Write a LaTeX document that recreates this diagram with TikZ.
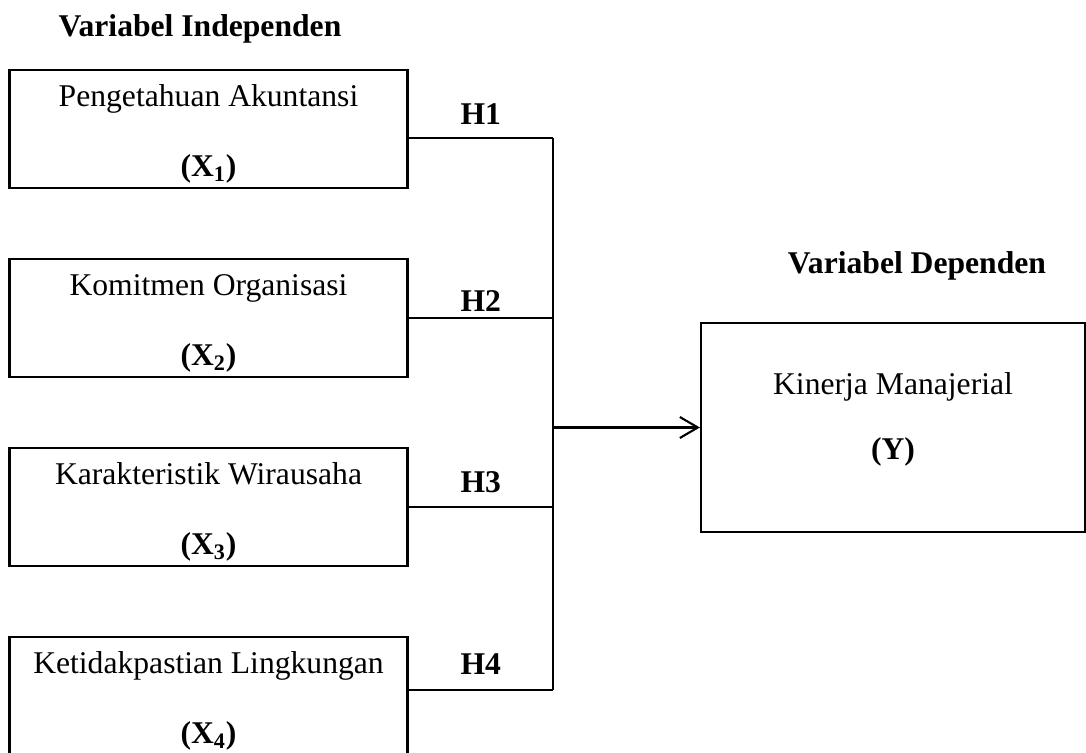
\documentclass[tikz,border=0pt]{standalone}
\usepackage{fontspec}
\setmainfont{Liberation Serif}
\usetikzlibrary{arrows.meta}

\begin{document}
\begin{tikzpicture}[node distance=3.78cm, line width=1.2pt,
    font=\fontsize{18}{22}\selectfont,
    >={Straight Barb[length=3.6mm, width=4.2mm]},
    varbox/.style={draw, rectangle, align=center, inner sep=0pt, minimum width=7.96cm, minimum height=2.36cm},
    heading/.style={font=\fontsize{18}{22}\selectfont\bfseries},
    hlabel/.style={font=\fontsize{18}{22}\selectfont\bfseries}]
    \useasboundingbox (0,0) rectangle (21.72,15.04);
    % independent variables
    \node[heading] (indep) at (4.0,14.46) {Variabel Independen};
    \node[varbox] (x1) at (4.17,12.46) {\rule{0pt}{18pt}Pengetahuan Akuntansi\\[18pt]\textbf{(X\textsubscript{1})}};
    \node[varbox, below of=x1] (x2) {\rule{0pt}{18pt}Komitmen Organisasi\\[18pt]\textbf{(X\textsubscript{2})}};
    \node[varbox, below of=x2] (x3) {\rule{0pt}{18pt}Karakteristik Wirausaha\\[18pt]\textbf{(X\textsubscript{3})}};
    \node[varbox, below of=x3] (x4) {\rule{0pt}{18pt}Ketidakpastian Lingkungan\\[18pt]\textbf{(X\textsubscript{4})}};
    % dependent variable
    \node[heading] (dep) at (18.34,9.72) {Variabel Dependen};
    \node[varbox, minimum width=7.68cm, minimum height=4.18cm] (y) at (17.86,6.49) {Kinerja Manajerial\\[15pt]\textbf{(Y)}\rule[-0.45cm]{0pt}{0pt}};
    % connectors
    \coordinate (b1) at (11.06,12.28);
    \coordinate (b4) at (11.06,1.24);
    \draw (x1.east |- b1) -- (b1) node[midway, above=4pt, hlabel] (h1) {H1};
    \draw (x2.east) -- (x2.east -| b1) node[midway, above, hlabel] (h2) {H2};
    \draw (x3.east) -- (x3.east -| b1) node[midway, above=4pt, hlabel] (h3) {H3};
    \draw (x4.east |- b4) -- (b4) node[midway, above=5pt, hlabel] (h4) {H4};
    \draw (b1) -- (b4);
    \draw[->] (b1 |- y.west) -- (y.west);
\end{tikzpicture}
\end{document}
